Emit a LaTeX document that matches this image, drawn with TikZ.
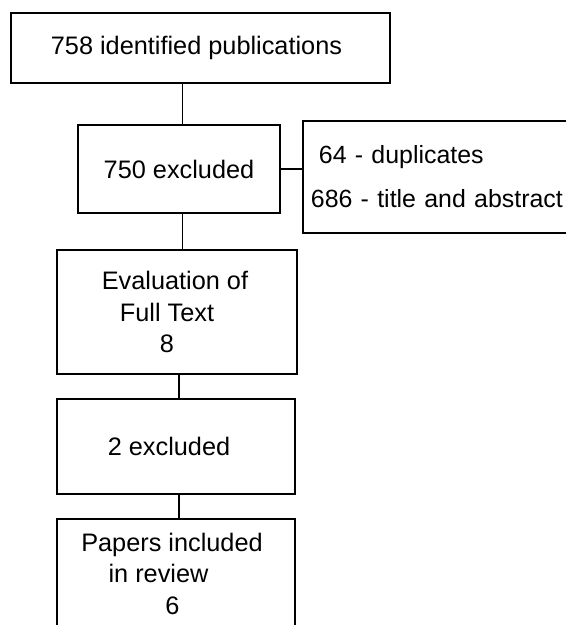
\documentclass[tikz,border=0pt]{standalone}
\usepackage{fontspec}
\setmainfont{Liberation Sans}
\usepackage{tikz}

\tikzset{
  flowbox/.style={draw, line width=0.9pt, align=center, inner sep=0pt,
    font=\fontsize{12.65}{15.75}\selectfont},
  sidebox/.style={draw, line width=0.9pt, align=left, inner xsep=4pt, inner ysep=0pt,
    font=\fontsize{12.45}{22}\selectfont},
  link/.style={line width=0.9pt}
}

\begin{document}
\begin{tikzpicture}[x=0.5pt,y=-0.5pt]
\useasboundingbox (0,0) rectangle (566,625);
\clip (0,0) rectangle (566,625);

% main column
\node[flowbox, minimum width=189.5pt, minimum height=35pt] (ident) at (200.5,48)
  {758 identified publications\kern4pt};
\node[flowbox, minimum width=101pt, minimum height=44pt] (excl) at (179,169)
  {750 excluded};
\node[flowbox, minimum width=120pt, minimum height=62pt] (full) at (177,312)
  {Evaluation of\kern2pt\\Full Text\kern10pt\\8\kern10pt};
\node[flowbox, minimum width=119pt, minimum height=47.5pt] (exclb) at (176,446.5)
  {2 excluded\kern7pt};
\node[flowbox, anchor=north, minimum width=119pt, minimum height=55pt] (incl) at (176,518)
  {Papers included\kern4pt\\in review\kern17.5pt\\6\kern3.5pt};

% reasons box
\node[sidebox, anchor=west, text width=132pt, minimum height=56pt] (reasons) at (302,177)
  {\hspace*{4pt}64 - duplicates\\686 - title and abstract};

% connectors
\draw[link] ([xshift=1.75pt]excl.north) -- ([xshift=1.75pt]excl.north |- ident.south);
\draw[link] ([xshift=1.75pt]excl.south) -- ([xshift=1.75pt]excl.south |- full.north);
\draw[link] (excl.east) -- (excl.east -| reasons.west);
\draw[link] ([xshift=1.5pt]exclb.north) -- ([xshift=1.5pt]exclb.north |- full.south);
\draw[link] ([xshift=1.5pt]exclb.south) -- ([xshift=1.5pt]exclb.south |- incl.north);

\end{tikzpicture}
\end{document}
